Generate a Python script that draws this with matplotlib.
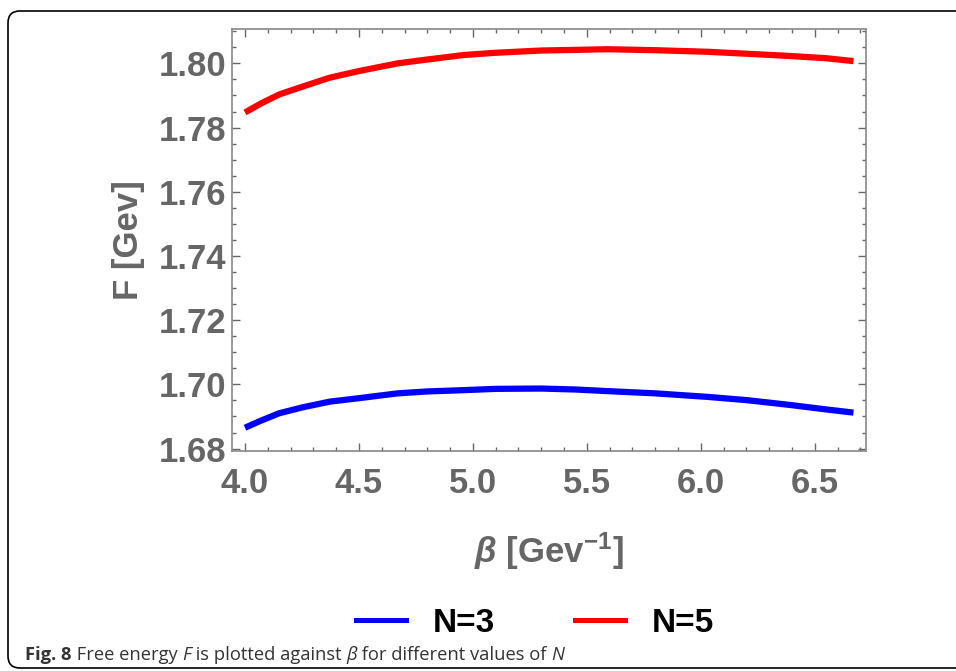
import numpy as np
import matplotlib
matplotlib.use("Agg")
import matplotlib.pyplot as plt
from matplotlib.patches import FancyBboxPatch
from matplotlib.lines import Line2D

# values
beta = [4.0, 4.07, 4.15, 4.25, 4.37, 4.5, 4.67, 4.8, 4.96, 5.1, 5.3, 5.45, 5.59, 5.8, 6.03, 6.2, 6.39, 6.55, 6.67]
F_n3 = [1.6865, 1.6887, 1.6910, 1.6928, 1.6946, 1.6957, 1.6972, 1.6978, 1.6982, 1.6986, 1.6987,
        1.6984, 1.6979, 1.6972, 1.6961, 1.6951, 1.6936, 1.6922, 1.6912]
F_n5 = [1.7847, 1.7875, 1.7903, 1.7927, 1.7955, 1.7976, 1.8000, 1.8012, 1.8026, 1.8033, 1.8040,
        1.8042, 1.8044, 1.8041, 1.8036, 1.8030, 1.8023, 1.8016, 1.8007]
labels = ["N=3", "N=5"]
colors = ["#0000ff", "#ff0000"]

gray = "#666666"
plt.rcParams['font.family'] = ['Liberation Sans', 'DejaVu Sans']
plt.rcParams['mathtext.fontset'] = 'custom'
plt.rcParams['mathtext.rm'] = 'Liberation Sans:bold'
plt.rcParams['mathtext.bf'] = 'Liberation Sans:bold'
plt.rcParams['mathtext.it'] = 'Liberation Sans:bold:italic'

fig = plt.figure(figsize=(9.56, 6.71), dpi=100)
ax = fig.add_axes([232/956, 1-450.5/671, 634/956, 421.5/671])

for y, c in zip([F_n3, F_n5], colors):
    ax.plot(beta, y, color=c, lw=4.5, solid_capstyle='butt', solid_joinstyle='round')

ax.set_xlim(3.943, 6.725)
ax.set_ylim(1.6794, 1.8107)
ax.set_xticks(np.arange(4.0, 6.51, 0.5))
ax.set_xticks(np.arange(4.0, 6.71, 0.1), minor=True)
ax.set_yticks(np.arange(1.68, 1.801, 0.02))
ax.set_yticks(np.arange(1.68, 1.811, 0.005), minor=True)
ax.xaxis.set_major_formatter(matplotlib.ticker.FormatStrFormatter('%.1f'))
ax.yaxis.set_major_formatter(matplotlib.ticker.FormatStrFormatter('%.2f'))
ax.tick_params(which='both', direction='in', top=True, right=True, color=gray, width=1)
ax.tick_params(which='major', length=6, labelsize=25, labelcolor=gray)
ax.tick_params(which='minor', length=3)
ax.tick_params(axis='x', pad=12)
ax.tick_params(axis='y', pad=4)
for lab in ax.get_xticklabels() + ax.get_yticklabels():
    lab.set_fontweight('bold')
for s in ax.spines.values():
    s.set_color("#888888")
    s.set_linewidth(1.2)

ax.set_xlabel(r"$\beta$ [Gev$^{-1}$]", fontsize=25, color=gray, fontweight='bold', labelpad=22)
ax.set_ylabel("F [Gev]", fontsize=25, color=gray, fontweight='bold', labelpad=10)

handles = [Line2D([], [], color=c, lw=3.6) for c in colors]
fig.legend(handles, labels, loc='center', bbox_to_anchor=(535/956, 1-623/671), ncol=2,
           frameon=False, prop={'weight': 'bold', 'size': 24}, handlelength=1.5,
           handletextpad=0.8, columnspacing=2.4)

# rounded frame around the figure panel
fig.patches.append(FancyBboxPatch((0.08, 0.03), 9.8, 6.57, boxstyle="round,pad=0,rounding_size=0.12",
                                  transform=fig.dpi_scale_trans, fill=False, ec='black', lw=1.2))

# caption, piece by piece
pieces = [("Fig. 8", 'bold', 'normal'), (" Free energy ", 'normal', 'normal'), ("F", 'normal', 'italic'),
          (" is plotted against ", 'normal', 'normal'), ("β", 'normal', 'italic'),
          (" for different values of ", 'normal', 'normal'), ("N", 'normal', 'italic')]
fig.canvas.draw()
r = fig.canvas.get_renderer()
x = 25
for txt, w, st in pieces:
    t = fig.text(x/956, 1-660/671, txt, fontsize=13.2, fontweight=w, style=st, color="#333333",
                 family=['Open Sans', 'DejaVu Sans'], va='baseline')
    x = t.get_window_extent(r).x1

fig.savefig("out.png", dpi=100)
